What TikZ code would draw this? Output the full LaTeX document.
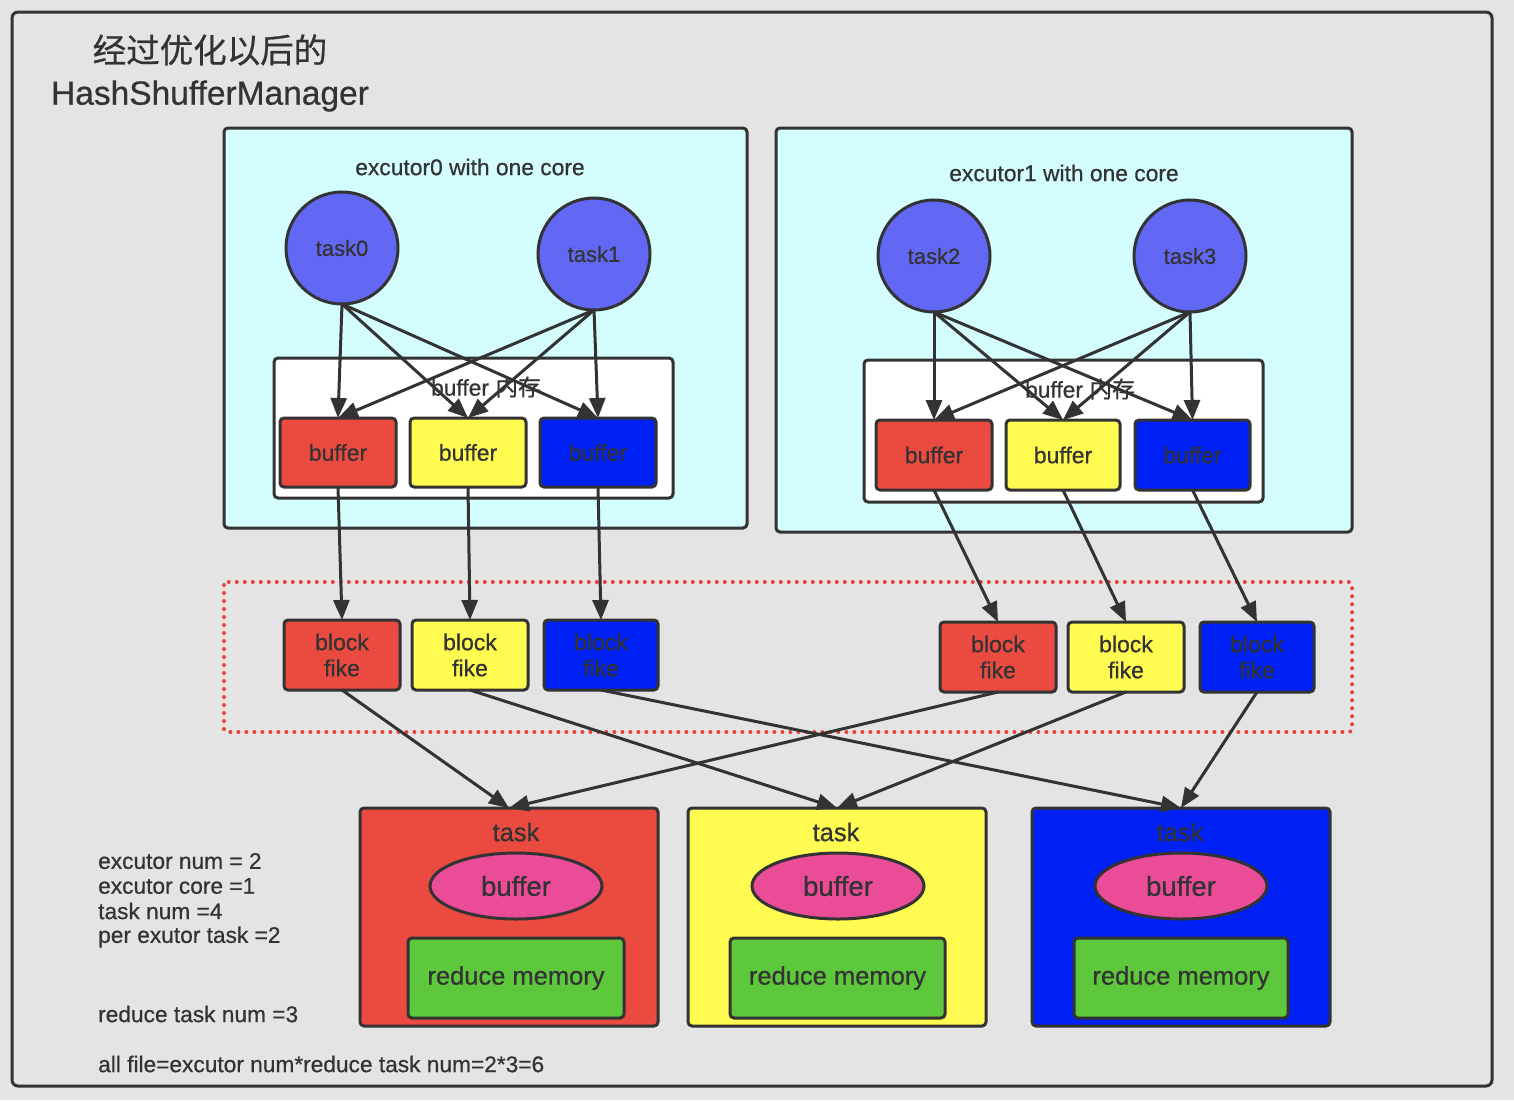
\documentclass[tikz,border=0pt]{standalone}
\usepackage{fontspec}
\setmainfont{Liberation Sans}[FakeBold=0.6]
\newfontfamily\cjk{Noto Sans CJK SC}[FakeBold=0.6]
\usetikzlibrary{arrows.meta,shapes.geometric}
\definecolor{dk}{HTML}{333333}
\definecolor{bg}{HTML}{E4E4E4}
\definecolor{cy}{HTML}{D4FEFE}
\definecolor{pu}{HTML}{6368F4}
\definecolor{rd}{HTML}{EA4A40}
\definecolor{ye}{HTML}{FFFB50}
\definecolor{bl}{HTML}{0021F5}
\definecolor{pk}{HTML}{EA4C98}
\definecolor{gr}{HTML}{5EC83D}
\definecolor{dr}{HTML}{E8413A}
\tikzset{
  box/.style={draw=dk, line width=3pt, rounded corners=4pt, outer sep=0pt, inner sep=0pt, text=dk},
  tsk/.style={circle, draw=dk, line width=3pt, fill=pu, minimum size=112pt, inner sep=0pt, outer sep=0pt, text=dk, font=\fontsize{22}{26}\selectfont},
  lbl/.style={text=dk, inner sep=0pt, font=\fontsize{22.8}{27}\selectfont},
  bufbox/.style={box, minimum width=116pt, minimum height=69pt, font=\fontsize{23}{27}\selectfont},
  blk/.style={box, minimum width=116pt, minimum height=70pt, align=center, font=\fontsize{23}{26}\selectfont},
  redbox/.style={box, minimum width=298pt, minimum height=218pt},
  ell/.style={ellipse, draw=dk, line width=3pt, fill=pk, minimum width=172pt, minimum height=66pt, inner sep=0pt, outer sep=0pt, text=dk, font=\fontsize{27.5}{32}\selectfont},
  grbox/.style={box, fill=gr, minimum width=216pt, minimum height=80pt, font=\fontsize{25.5}{30}\selectfont},
  arr/.style={draw=dk, line width=3pt, -{Triangle[length=20pt,width=16pt]}},
  note/.style={anchor=west, text=dk, inner sep=0pt, font=\fontsize{22.7}{27}\selectfont},
}
\begin{document}
\begin{tikzpicture}[x=1pt,y=-1pt]
\fill[bg] (0,0) rectangle (1514,1100);
\useasboundingbox (0,0) rectangle (1514,1100);
\draw[dk, line width=3pt, rounded corners=6pt] (12,12) rectangle (1492,1086);
\node[text=dk, align=center, inner sep=0pt, font=\fontsize{33.5}{42}\selectfont] (title) at (210,73) {{\cjk 经过优化以后的}\\HashShufferManager};

% executor 0
\node[box, fill=cy, minimum width=523pt, minimum height=400pt] (ex0) at (485.5,328) {};
\node[lbl] (ex0l) at (470,167) {excutor0 with one core};
\node[tsk] (t0) at (342,248) {task0};
\node[tsk] (t1) at (594,254) {task1};
\node[box, fill=white, minimum width=399pt, minimum height=140pt] (mem0) at (473.5,428) {};
\node[lbl] (mem0l) at (486,387) {buffer {\cjk 内存}};
\node[bufbox, fill=rd] (b0r) at (338,452.5) {buffer};
\node[bufbox, fill=ye] (b0y) at (468,452.5) {buffer};
\node[bufbox, fill=bl] (b0b) at (598,452.5) {buffer};

% executor 1
\node[box, fill=cy, minimum width=576pt, minimum height=404pt] (ex1) at (1064,330) {};
\node[lbl] (ex1l) at (1064,173) {excutor1 with one core};
\node[tsk] (t2) at (934,256) {task2};
\node[tsk] (t3) at (1190,256) {task3};
\node[box, fill=white, minimum width=399pt, minimum height=142pt] (mem1) at (1063.5,431) {};
\node[lbl] (mem1l) at (1080,389) {buffer {\cjk 内存}};
\node[bufbox, fill=rd, minimum height=70pt] (b1r) at (934,455) {buffer};
\node[bufbox, fill=ye, minimum height=70pt, minimum width=114pt] (b1y) at (1063,455) {buffer};
\node[bufbox, fill=bl, minimum height=70pt, minimum width=115pt] (b1b) at (1192.5,455) {buffer};

% task -> buffer arrows
\foreach \t in {t0,t1}{
  \foreach \b in {b0r,b0y,b0b}{ \draw[arr] (\t.south) -- (\b.north); }
}
\foreach \t in {t2,t3}{
  \foreach \b in {b1r,b1y,b1b}{ \draw[arr] (\t.south) -- (\b.north); }
}

% dotted region
\draw[dr, line width=4pt, dash pattern=on 0pt off 8pt, line cap=round, rounded corners=3pt] (224,582) rectangle (1352,732);

% block files
\node[blk, fill=rd] (f0r) at (342,655) {block\\fike};
\node[blk, fill=ye] (f0y) at (470,655) {block\\fike};
\node[blk, fill=bl, minimum width=114pt] (f0b) at (601,655) {block\\fike};
\node[blk, fill=rd] (f1r) at (998,657) {block\\fike};
\node[blk, fill=ye] (f1y) at (1126,657) {block\\fike};
\node[blk, fill=bl, minimum width=114pt] (f1b) at (1257,657) {block\\fike};

\draw[arr] (b0r.south) -- (f0r.north);
\draw[arr] (b0y.south) -- (f0y.north);
\draw[arr] (b0b.south) -- (f0b.north);
\draw[arr] (b1r.south) -- (f1r.north);
\draw[arr] (b1y.south) -- (f1y.north);
\draw[arr] (b1b.south) -- (f1b.north);

% reduce tasks
\node[redbox, fill=rd] (r0) at (509,917) {};
\node[redbox, fill=ye] (r1) at (837,917) {};
\node[redbox, fill=bl] (r2) at (1181,917) {};
\node[lbl, font=\fontsize{25.5}{30}\selectfont] (r0l) at (516,832) {task};
\node[lbl, font=\fontsize{25.5}{30}\selectfont] (r1l) at (836,832) {task};
\node[lbl, font=\fontsize{25.5}{30}\selectfont] (r2l) at (1180,832) {task};
\node[ell] (e0) at (516,886) {buffer};
\node[ell] (e1) at (838,886) {buffer};
\node[ell] (e2) at (1181,886) {buffer};
\node[grbox] (g0) at (516,978) {reduce memory};
\node[grbox, minimum width=215pt] (g1) at (837.5,978) {reduce memory};
\node[grbox, minimum width=214pt] (g2) at (1181,978) {reduce memory};

\draw[arr] (f0r.south) -- (r0.north);
\draw[arr] (f1r.south) -- (r0.north);
\draw[arr] (f0y.south) -- (r1.north);
\draw[arr] (f1y.south) -- (r1.north);
\draw[arr] (f0b.south) -- (r2.north);
\draw[arr] (f1b.south) -- (r2.north);

% notes
\node[note] (n1) at (98,861) {excutor num = 2};
\node[note] (n2) at (98,886) {excutor core =1};
\node[note] (n3) at (98,911) {task num =4};
\node[note] (n4) at (98,937) {per exutor task =2};
\node[note] (n5) at (98,1014) {reduce task num =3};
\node[note] (n6) at (98,1064) {all file=excutor num*reduce task num=2*3=6};
\end{tikzpicture}
\end{document}
